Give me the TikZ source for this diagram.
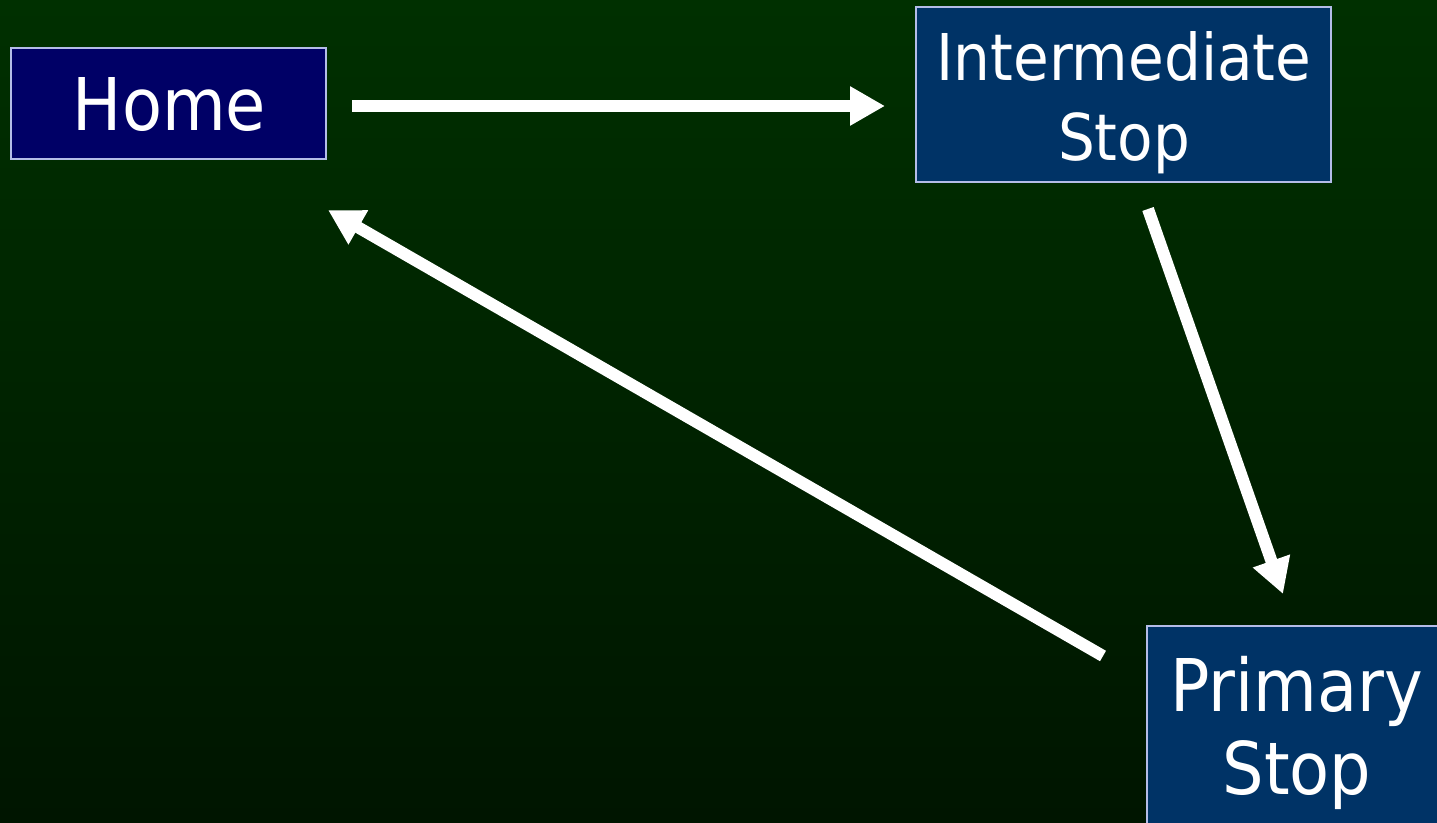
\documentclass[tikz,border=0pt]{standalone}
\usepackage{fontspec}
\newfontfamily\boxfont{DejaVu Sans Condensed}
\usetikzlibrary{arrows.meta}
\definecolor{bgtop}{RGB}{0,48,0}
\definecolor{bgbot}{RGB}{0,21,0}
\definecolor{homefill}{RGB}{0,0,102}
\definecolor{stopfill}{RGB}{0,51,102}
\definecolor{boxline}{RGB}{180,188,232}
\begin{document}
\begin{tikzpicture}[x=0.5pt,y=-0.5pt,
  boxst/.style={draw=boxline, line width=1pt, inner sep=0pt},
  txt/.style={text=white, font=\boxfont, align=center, inner sep=0pt},
  arr/.style={draw=white, line width=6pt, -{Triangle[length=17.5pt,width=18.5pt]}}]
\useasboundingbox (0,0) rectangle (1437,823);
\clip (0,0) rectangle (1437,823);
\shade[top color=bgtop, bottom color=bgbot] (0,0) rectangle (1437,823);
% boxes
\node[boxst, fill=homefill, minimum width=157.5pt, minimum height=55.5pt] (home) at (168.5,103.5) {};
\node[txt, font=\boxfont\fontsize{36.35}{41.5}\selectfont] (hometxt) at (169.5,104.5) {Home};
\node[boxst, fill=stopfill, minimum width=207.5pt, minimum height=87.5pt] (inter) at (1123.5,94.5) {};
\node[txt, font=\boxfont\fontsize{32.25}{40}\selectfont] (intertxt) at (1124,103) {Intermediate\\Stop};
\node[boxst, fill=stopfill, minimum width=150pt, minimum height=106.5pt] (prim) at (1297,732.5) {};
\node[txt, font=\boxfont\fontsize{36.35}{41.5}\selectfont] (primtxt) at (1297,732.5) {Primary\\Stop};
% connector ends
\coordinate (a1s) at (352,106);
\coordinate (a1e) at (885,106);
\coordinate (a2s) at (1148,209);
\coordinate (a2e) at (1283,594);
\coordinate (a3s) at (1103,656);
\coordinate (a3e) at (328,210);
\draw[arr] (a1s) -- (a1e);
\draw[arr] (a2s) -- (a2e);
\draw[arr] (a3s) -- (a3e);
\end{tikzpicture}
\end{document}
